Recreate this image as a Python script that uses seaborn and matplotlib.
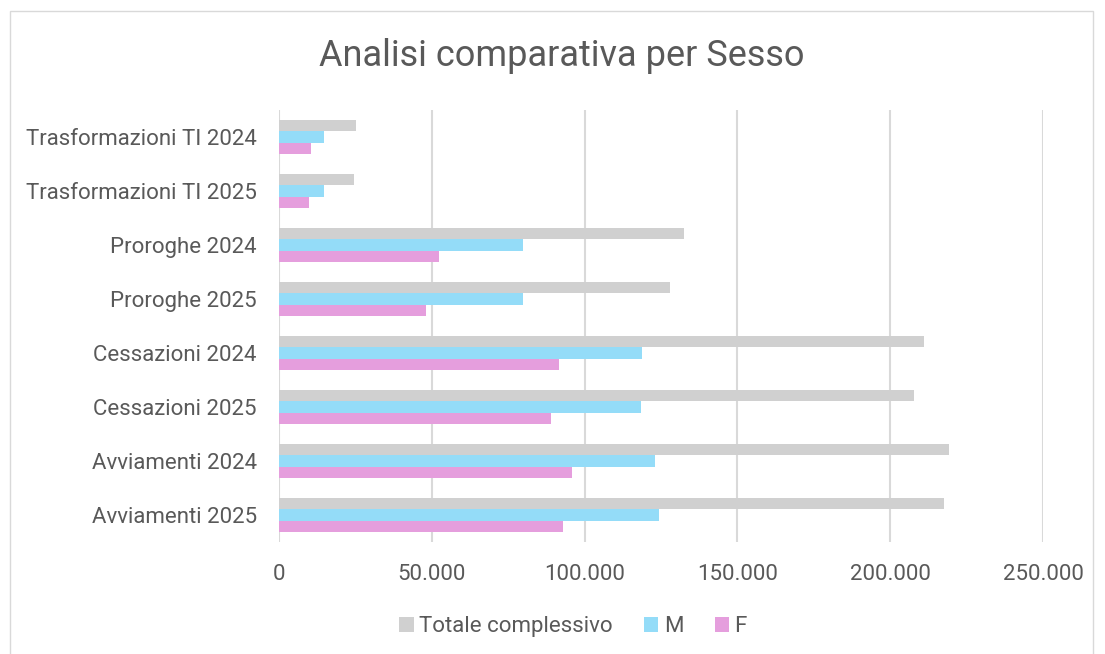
import pandas as pd
import matplotlib.pyplot as plt
import seaborn as sns
from matplotlib.patches import Rectangle, Patch
from matplotlib.ticker import FuncFormatter

# Data (values in units)
categorie = ["Trasformazioni TI 2024", "Trasformazioni TI 2025",
             "Proroghe 2024", "Proroghe 2025",
             "Cessazioni 2024", "Cessazioni 2025",
             "Avviamenti 2024", "Avviamenti 2025"]
totale = [25300, 24400, 132400, 128000, 210900, 207800, 219100, 217700]
maschi = [14700, 14600, 79700, 79700, 118900, 118500, 122900, 124500]
femmine = [10400, 9700, 52300, 48000, 91700, 89000, 96000, 92800]
serie = ["Totale complessivo", "M", "F"]
colori = ["#D0D0D0", "#94DCF8", "#E59EDD"]

df = pd.DataFrame({"categoria": categorie * 3,
                   "valore": totale + maschi + femmine,
                   "serie": [s for s in serie for _ in categorie]})

sns.set_theme(style="white")
plt.rcParams['font.family'] = ['Roboto', 'DejaVu Sans']
testo = "#595959"

fig = plt.figure(figsize=(11.05, 6.54), dpi=100)
ax = fig.add_axes([0.2525, 0.1713, 0.9439 - 0.2525, 0.8318 - 0.1713])

sns.barplot(data=df, y="categoria", x="valore", hue="serie", order=categorie,
            hue_order=serie, palette=colori, width=0.64, orient="h",
            saturation=1, ax=ax, legend=False, linewidth=0)

ax.set_xlim(0, 250000)
ax.set_xticks(range(0, 250001, 50000))
ax.xaxis.set_major_formatter(FuncFormatter(lambda v, p: f"{int(v):,}".replace(",", ".")))
ax.grid(axis="x", color="#D9D9D9", linewidth=1.5)
ax.set_axisbelow(True)
for s in ax.spines.values():
    s.set_visible(False)
ax.set_xlabel("")
ax.set_ylabel("")
ax.tick_params(axis="both", length=0, labelsize=16, labelcolor=testo)
ax.tick_params(axis="x", pad=16)
ax.tick_params(axis="y", pad=16)

fig.text(0.508, 0.915, "Analisi comparativa per Sesso", ha="center", va="center",
         fontsize=26, color=testo)

handles = [Patch(facecolor=c, edgecolor="none") for c in colori]
fig.legend(handles, serie, loc="center", bbox_to_anchor=(0.5186, 0.042), ncol=3,
           frameon=False, fontsize=16, labelcolor=testo, handlelength=0.65,
           handleheight=0.65, handletextpad=0.25, columnspacing=1.4)

fig.patches.append(Rectangle((10 / 1105, -0.01), (1093 - 10) / 1105, 1 - 11 / 654 + 0.01,
                             transform=fig.transFigure, fill=False,
                             edgecolor="#D9D9D9", linewidth=1))

fig.savefig("out.png", dpi=100)
